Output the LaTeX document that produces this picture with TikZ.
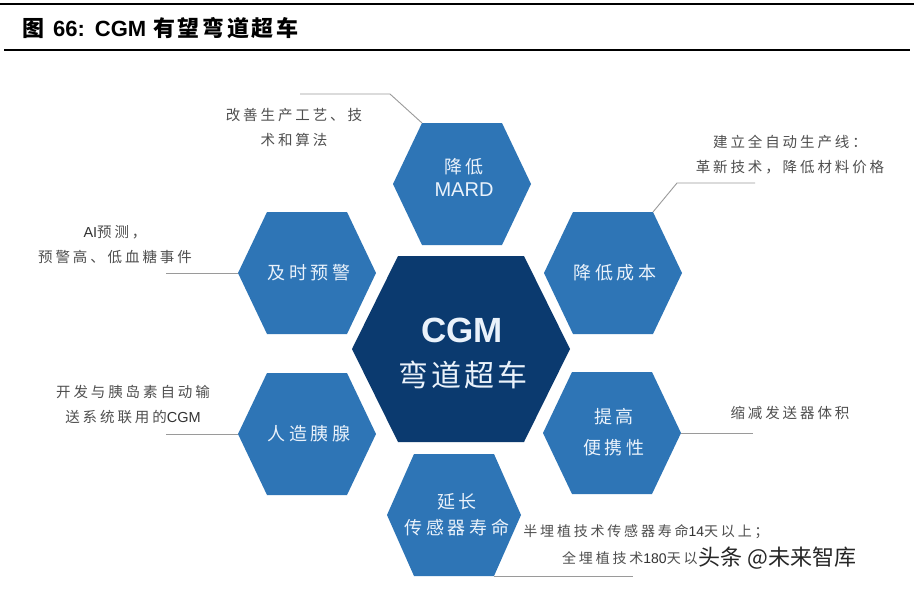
\documentclass[tikz,border=0pt]{standalone}
\usepackage{fontspec}
\setmainfont{Liberation Sans}
\newfontfamily\cjk{Noto Sans CJK SC}
\newfontfamily\cjkann[LetterSpace=20]{Noto Sans CJK SC}
\newfontfamily\cjkhex[LetterSpace=22]{Noto Sans CJK SC}
\newfontfamily\cjkctr[LetterSpace=10]{Noto Sans CJK SC}
\newfontfamily\cjktitle[LetterSpace=12]{Noto Sans CJK SC}
\usetikzlibrary{calc}
\definecolor{hexblue}{HTML}{2E75B6}
\definecolor{hexnavy}{HTML}{0B3A6F}
\definecolor{hextext}{HTML}{EAF2FB}
\definecolor{anntext}{HTML}{4F4F4F}
\definecolor{linegray}{HTML}{9A9A9A}
\newcommand\lat[1]{{\rmfamily\color{black!80}#1}}
% name, cx, cy, half width, half top edge, half height, colour
\newcommand\hexshape[7]{%
  \coordinate (#1) at (#2,#3);
  \coordinate (#1-l) at ($(#1)+(-#4,0)$);
  \coordinate (#1-r) at ($(#1)+(#4,0)$);
  \coordinate (#1-tl) at ($(#1)+(-#5,-#6)$);
  \coordinate (#1-tr) at ($(#1)+(#5,-#6)$);
  \coordinate (#1-bl) at ($(#1)+(-#5,#6)$);
  \coordinate (#1-br) at ($(#1)+(#5,#6)$);
  \fill[#7] (#1-l) -- (#1-tl) -- (#1-tr) -- (#1-r) -- (#1-br) -- (#1-bl) -- cycle;
}
\begin{document}
\begin{tikzpicture}[x=1pt,y=-1pt,
  hexlabel/.style={text=hextext, align=center, inner sep=0pt,
    font=\fontsize{18}{25}\selectfont\cjkhex},
  ann/.style={text=anntext, align=center, inner sep=0pt,
    font=\fontsize{14.5}{25}\selectfont\cjkann},
  conn/.style={draw=linegray, line width=0.9pt},
  rule/.style={draw=black, line width=1.6pt}]
\useasboundingbox (0,0) rectangle (914,590);
\fill[white] (0,0) rectangle (914,590);

% title and rules
\draw[rule] (0,4) -- (914,4);
\draw[rule] (4,50) -- (910,50);
\node[anchor=west, inner sep=0pt, font=\fontsize{22}{22}\selectfont\bfseries] (title) at (22,28)
  {{\cjk 图}\hspace{9pt}66:\hspace{10pt}CGM\hspace{7pt}{\cjktitle 有望弯道超车}};

% hexagons
\hexshape{top}{462}{184}{69}{40}{61}{hexblue}
\hexshape{rt}{613}{273}{69}{40}{61}{hexblue}
\hexshape{lt}{307}{273}{69}{40}{61}{hexblue}
\hexshape{lb}{307}{434}{69}{40}{61}{hexblue}
\hexshape{rb}{612}{433}{69}{40}{61}{hexblue}
\hexshape{bot}{454}{515}{67}{40}{61}{hexblue}
\hexshape{ctr}{461}{349}{109}{63}{93}{hexnavy}

% hexagon labels
\node[hexlabel] (top-txt) at (464,177) {降低\\[-2pt]{\rmfamily\fontsize{20}{24}\selectfont MARD}};
\node[hexlabel] (rt-txt) at (615,273) {降低成本};
\node[hexlabel] (lt-txt) at (309,273) {及时预警};
\node[hexlabel] (lb-txt) at (309,434) {人造胰腺};
\node[hexlabel, font=\fontsize{18}{31}\selectfont\cjkhex] (rb-txt) at (614,432) {提高\\便携性};
\node[hexlabel, font=\fontsize{18}{26}\selectfont\cjkhex] (bot-txt) at (457,515) {延长\\传感器寿命};
\node[text=hextext, inner sep=0pt, font=\fontsize{35}{35}\selectfont\bfseries] (ctr-a) at (462,330) {CGM};
\node[text=hextext, inner sep=0pt, font=\fontsize{30}{30}\selectfont\cjkctr] (ctr-b) at (463,375) {弯道超车};

% annotations
\node[ann] (n1) at (294,127) {改善生产工艺、技\\术和算法};
\node[ann] (n2) at (790,155) {建立全自动生产线：\\革新技术，降低材料价格};
\node[ann] (n3) at (115,245) {\lat{AI}预测，\\预警高、低血糖事件};
\node[ann] (n4) at (133,405) {开发与胰岛素自动输\\送系统联用的\lat{CGM}};
\node[ann] (n5) at (790,413) {缩减发送器体积};
\node[ann, font=\fontsize{14}{26}\selectfont\cjkann] (n6a) at (646,532) {半埋植技术传感器寿命\lat{14}天以上；};
\node[ann, anchor=west, font=\fontsize{14}{26}\selectfont\cjkann] (n6b) at (562,558) {全埋植技术\lat{180}天以};

% connector free ends
\coordinate (e1a) at (390,94);
\coordinate (e1b) at (300,94);
\coordinate (e2a) at (677,183);
\coordinate (e2b) at (755,183);
\coordinate (e3) at (166,273);
\coordinate (e4) at (166,434);
\coordinate (e5) at (753,433);
\coordinate (e6) at (633,576);

% connectors
\draw[conn] (top-tl) -- (e1a) -- (e1b);
\draw[conn] (rt-tr) -- (e2a) -- (e2b);
\draw[conn] (lt-l) -- (e3);
\draw[conn] (lb-l) -- (e4);
\draw[conn] (rb-r) -- (e5);
\draw[conn] (bot-br) -- (bot-br -| e6);

% watermark
\node[anchor=west, inner sep=1pt, text=black!85,
  font=\fontsize{22}{22}\selectfont\cjk] (wm) at (n6b.east) {头条 @未来智库};
\end{tikzpicture}
\end{document}
